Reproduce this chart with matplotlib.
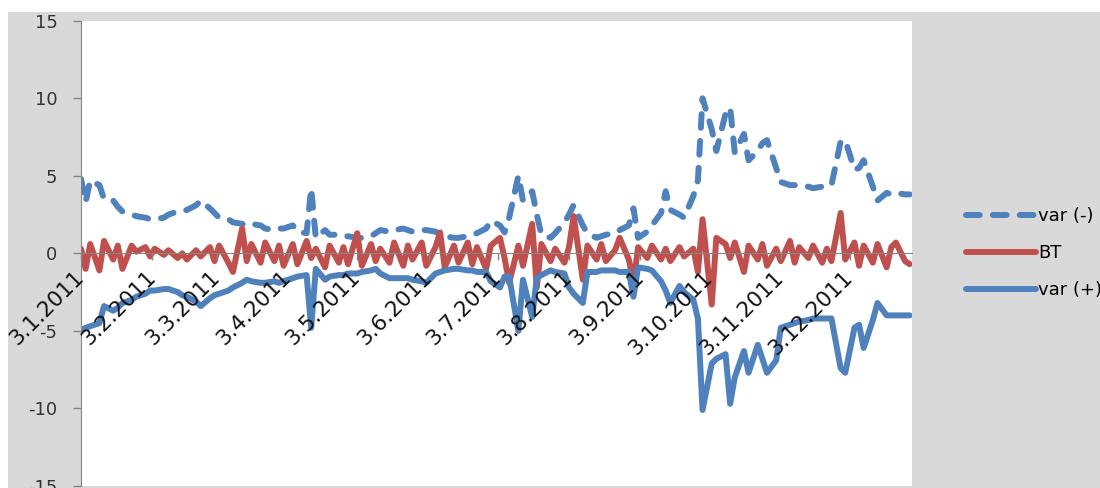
import numpy as np
import pandas as pd
import matplotlib
matplotlib.use("Agg")
from matplotlib import pyplot as plt
from matplotlib.patches import Rectangle

plt.rcParams["axes.unicode_minus"] = False

# every second trading day of 2011
dates = pd.bdate_range("2011-01-03", "2011-12-30")[::2]

tick_dates = pd.to_datetime(["2011-01-03", "2011-02-03", "2011-03-03", "2011-04-03",
                             "2011-05-03", "2011-06-03", "2011-07-03", "2011-08-03",
                             "2011-09-03", "2011-10-03", "2011-11-03", "2011-12-03"])
tick_labels = ["3.1.2011", "3.2.2011", "3.3.2011", "3.4.2011", "3.5.2011", "3.6.2011",
               "3.7.2011", "3.8.2011", "3.9.2011", "3.10.2011", "3.11.2011", "3.12.2011"]

var_minus = [4.8, 3.3, 4.7, 4.4, 3.5, 3.4, 3.0, 2.7, 2.5, 2.4,
             2.3, 2.2, 2.2, 2.3, 2.5, 2.7, 2.7, 2.8, 3.1, 3.4,
             2.9, 2.6, 2.3, 2.2, 2.0, 1.9, 1.8, 1.9, 1.8, 1.6,
             1.5, 1.6, 1.6, 1.8, 1.4, 1.3, 4.2, 1.0, 1.5, 1.2,
             1.2, 1.1, 1.1, 1.0, 1.0, 1.1, 1.3, 1.5, 1.4, 1.5,
             1.6, 1.5, 1.4, 1.5, 1.5, 1.4, 1.2, 1.1, 1.0, 1.0,
             1.1, 1.2, 1.3, 1.6, 2.1, 1.8, 1.35, 2.3, 5.0, 3.4,
             4.0, 2.5, 1.2, 1.0, 1.3, 2.0, 2.5, 3.1, 1.8, 1.3,
             1.0, 1.1, 1.2, 1.3, 1.5, 1.8, 2.9, 1.0, 1.4, 1.8,
             2.6, 4.0, 2.8, 2.5, 2.3, 3.7, 4.7, 10.0, 8.0, 6.6,
             9.0, 9.4, 6.5, 7.7, 6.0, 6.6, 7.1, 7.3, 5.5, 4.6,
             4.4, 4.4, 4.3, 4.3, 4.2, 4.3, 4.3, 4.4, 7.2, 7.3,
             5.4, 5.5, 6.0, 4.3, 3.4, 3.9, 3.8, 3.9, 3.8, 3.8]

bt = [0.3, -1.0, 0.6, -1.1, 0.8, -0.4, 0.5, -1.0, 0.5, 0.1,
      0.4, -0.2, 0.3, -0.1, 0.2, -0.3, 0.0, -0.4, 0.2, -0.2,
      0.4, -0.5, 0.5, -0.6, -1.2, 1.6, -0.5, 0.6, -0.6, 0.7,
      -0.5, 0.5, -0.8, 0.6, -0.7, 0.8, -0.3, 0.3, -0.9, 0.5,
      -0.6, 0.4, -0.7, 1.3, -0.8, 0.6, -0.5, 0.3, -0.6, 0.7,
      -0.8, 0.5, -0.4, 0.7, -0.8, 0.4, 1.35, -0.9, 0.5, -0.6,
      0.7, -0.7, 0.4, -1.0, 0.5, 1.0, -0.3, -1.9, 0.5, -0.8,
      1.9, -2.2, 0.6, -0.5, 0.3, -0.6, 0.4, 2.4, -1.7, 0.5,
      -0.4, 0.6, -0.5, 0.2, 1.0, -0.4, -1.9, 0.4, -0.3, 0.5,
      -0.4, 0.3, -0.5, 0.4, -0.2, 0.3, -1.2, 2.2, -3.3, 1.0,
      0.6, -0.3, 0.7, -1.2, 0.5, -0.4, 0.6, -0.8, 0.3, -0.5,
      0.8, -0.6, 0.4, -0.3, 0.5, -0.6, 0.3, -0.5, 2.6, -0.4,
      0.7, -0.8, 0.5, -0.6, 0.6, -0.9, 0.4, 0.7, -0.5, -0.7]

var_plus = [-5.0, -4.8, -4.7, -4.5, -3.4, -3.7, -3.5, -3.2, -3.0, -2.8,
            -2.6, -2.4, -2.4, -2.3, -2.3, -2.5, -2.7, -2.8, -3.1, -3.4,
            -2.9, -2.7, -2.6, -2.4, -2.2, -1.9, -1.7, -1.8, -1.9, -1.9,
            -1.8, -1.9, -1.8, -1.6, -1.5, -1.4, -4.8, -1.0, -1.7, -1.5,
            -1.4, -1.4, -1.3, -1.3, -1.2, -1.1, -1.0, -1.3, -1.6, -1.6,
            -1.6, -1.6, -1.7, -1.8, -1.9, -1.3, -1.2, -1.1, -1.0, -1.0,
            -1.1, -1.1, -1.2, -1.2, -1.8, -2.2, -1.5, -1.5, -5.0, -1.7,
            -4.1, -1.6, -1.4, -1.1, -1.2, -1.3, -2.2, -2.6, -3.2, -1.2,
            -1.2, -1.1, -1.1, -1.1, -1.2, -1.2, -2.8, -0.9, -1.0, -1.1,
            -1.8, -2.4, -3.2, -2.1, -2.5, -3.0, -4.2, -10.1, -7.1, -6.8,
            -6.5, -9.7, -8.0, -6.3, -7.7, -5.9, -6.8, -7.7, -6.9, -4.8,
            -4.6, -4.5, -4.4, -4.3, -4.2, -4.2, -4.2, -4.2, -7.4, -7.7,
            -4.8, -4.6, -6.1, -4.3, -3.2, -4.0, -4.0, -4.0, -4.0, -4.0]

blue = "#4F81BD"
red = "#C0504D"
axis_grey = "#868686"
W, H = 1100, 488
LW = 4.3

fig = plt.figure(figsize=(11, 4.88), dpi=100)
fig.add_artist(Rectangle((8 / W, 0), 1, 1 - 12 / H, transform=fig.transFigure,
                         facecolor="#d9d9d9", edgecolor="none", zorder=-1))
ax = fig.add_axes([81 / W, 2 / H, (912 - 81) / W, (486 - 20.7) / H])
ax.set_facecolor("white")

ax.plot(dates, var_minus, color=blue, lw=LW, dashes=(2.3, 2.2), dash_capstyle="round",
        dash_joinstyle="round", label="var (-)", zorder=2)
ax.plot(dates, bt, color=red, lw=LW, solid_capstyle="round", solid_joinstyle="round",
        label="BT", zorder=2)
ax.plot(dates, var_plus, color=blue, lw=LW, solid_capstyle="round", solid_joinstyle="round",
        label="var (+)", zorder=2)

ax.set_xlim(pd.Timestamp("2011-01-03"), pd.Timestamp("2011-12-30"))
ax.set_ylim(-15, 15)
ax.set_yticks(range(-15, 16, 5))
ax.set_axisbelow(False)

for s in ["top", "right"]:
    ax.spines[s].set_visible(False)
ax.spines["bottom"].set_position(("data", 0))
ax.spines["bottom"].set_color(axis_grey)
ax.spines["left"].set_color(axis_grey)

ax.tick_params(axis="y", direction="out", length=6, width=1, color=axis_grey,
               pad=11, labelsize=13, labelcolor="#333333")
ax.tick_params(axis="x", direction="out", length=5, width=1, color=axis_grey,
               pad=10, labelsize=15.5, labelcolor="#111111")

ax.set_xticks(tick_dates)
ax.set_xticklabels(tick_labels)
plt.setp(ax.get_xticklabels(), rotation=45, ha="right", va="center", rotation_mode="anchor")

ax.legend(loc="center left", bbox_to_anchor=(966 / W, 1 - 253 / H), bbox_transform=fig.transFigure,
          frameon=False, handlelength=3.9, handletextpad=0.1, labelspacing=1.05,
          borderpad=0, borderaxespad=0, fontsize=13)

fig.savefig("out.png", dpi=100)
